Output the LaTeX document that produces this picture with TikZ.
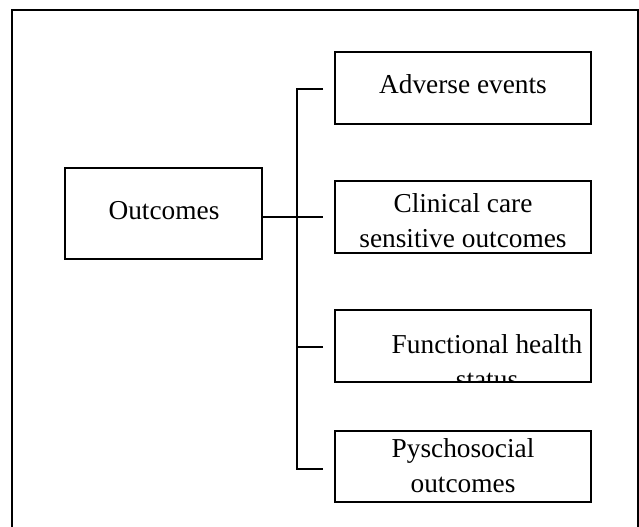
\documentclass[tikz,border=0pt]{standalone}
\usepackage{fontspec}
\setmainfont{Liberation Serif}
\usetikzlibrary{fit}
\begin{document}
\begin{tikzpicture}[x=0.75pt,y=-0.75pt,
  frame/.style={line width=1.5pt, draw=black},
  box/.style={draw=black, line width=1.1pt, inner sep=0pt, rectangle},
  link/.style={draw=black, line width=1.1pt},
  lbl/.style={font=\fontsize{20.5}{26.25}\selectfont, align=center, inner sep=0pt}]
  \useasboundingbox (0,0) rectangle (639,527);
  % outer frame (open at the bottom)
  \draw[frame] (11.5,527) -- (11.5,10) -- (637.5,10) -- (637.5,527);

  % boxes
  \node[box, fit={(65,168) (262,259)}] (outc) {};
  \node[box, fit={(335,52) (591,124)}] (ae) {};
  \node[box, fit={(335,181) (591,253)}] (cc) {};
  \node[box, fit={(335,310) (591,382)}] (fh) {};
  \node[box, fit={(335,431) (591,502)}] (ps) {};

  % labels
  \node[lbl] at (164,211) {Outcomes};
  \node[lbl] at (463,84) {Adverse events};
  \node[lbl] at (463,221) {Clinical care\\sensitive outcomes};
  \begin{scope}
    \clip (fh.south west) rectangle (fh.north east);
    \node[lbl] at (487,362) {Functional health\\status};
  \end{scope}
  \node[lbl] at (463,466) {Pyschosocial\\outcomes};

  % bracket connectors
  \coordinate (t1) at (323,89);
  \coordinate (t2) at (323,217);
  \coordinate (t3) at (323,347);
  \coordinate (t4) at (323,469);
  \coordinate (trtop) at (297,89);
  \coordinate (trbot) at (297,469);
  \draw[link] (t1) -- (trtop) -- (trbot) -- (t4);
  \draw[link] (outc.east |- t2) -- (t2);
  \draw[link] (t3) -- (t3 -| trtop);
\end{tikzpicture}
\end{document}
